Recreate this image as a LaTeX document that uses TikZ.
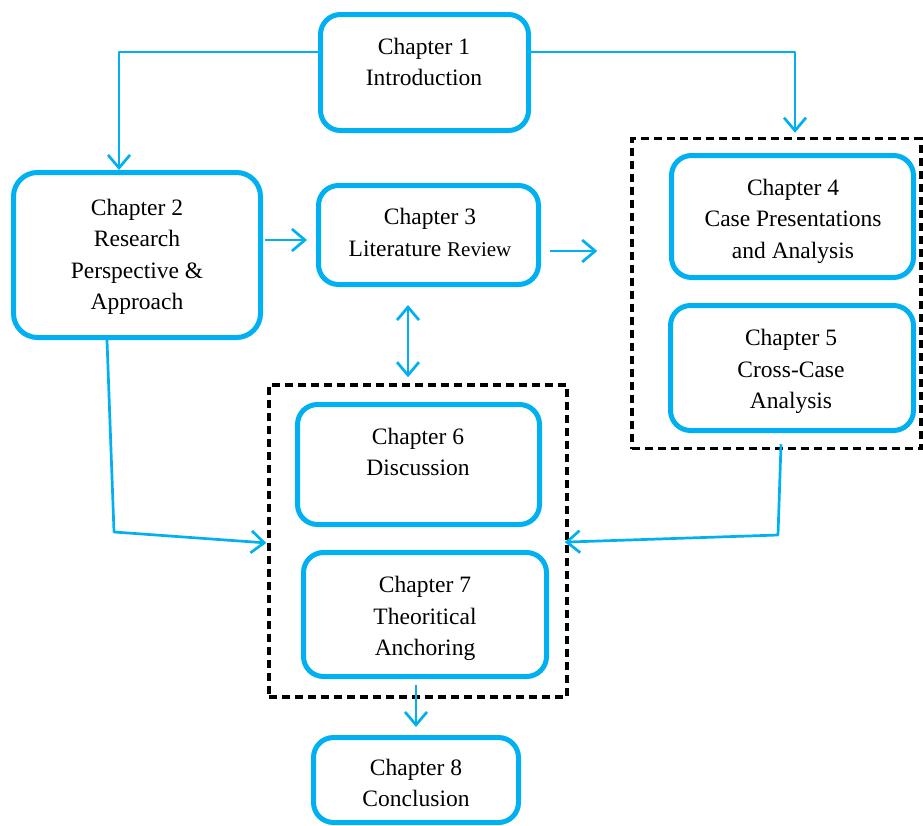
\documentclass[tikz,border=0pt]{standalone}
\usepackage{fontspec}
\setmainfont{Liberation Serif}
\usetikzlibrary{arrows.meta}
\definecolor{chblue}{HTML}{00B0F0}
\tikzset{
  chbox/.style={draw=chblue, line width=5pt, rounded corners=20pt},
  chtext/.style={align=center, font=\fontsize{23.5}{31.5}\selectfont, inner sep=0pt},
  conn/.style={draw=chblue, line width=2.7pt, line join=round,
    -{Straight Barb[length=13pt,width=22pt,line width=2.7pt]}},
  both/.style={conn, {Straight Barb[length=13pt,width=22pt,line width=2.7pt]}-{Straight Barb[length=13pt,width=22pt,line width=2.7pt]}},
  grp/.style={draw=black, line width=3.5pt, dash pattern=on 8pt off 5pt},
}
\begin{document}
\begin{tikzpicture}[x=1pt,y=-1pt]
\useasboundingbox (0,0) rectangle (923,825);

% dashed groups
\node[grp, minimum width=289pt, minimum height=310pt] (g1) at (776.5,293.5) {};
\node[grp, minimum width=298pt, minimum height=312pt] (g2) at (418,541) {};

% chapter boxes
\node[chbox, minimum width=208pt, minimum height=116pt] (c1) at (424.5,72.5) {};
\node[chbox, minimum width=247pt, minimum height=165pt, rounded corners=24pt] (c2) at (137,255) {};
\node[chbox, minimum width=220pt, minimum height=99pt] (c3) at (428.5,235) {};
\node[chbox, minimum width=242pt, minimum height=122pt] (c4) at (792.5,216.5) {};
\node[chbox, minimum width=243pt, minimum height=125pt] (c5) at (792,368) {};
\node[chbox, minimum width=242pt, minimum height=120pt] (c6) at (418.5,464.5) {};
\node[chbox, minimum width=243pt, minimum height=124pt] (c7) at (425,614.5) {};
\node[chbox, minimum width=205pt, minimum height=85pt] (c8) at (416,780) {};

% chapter titles
\node[chtext] (t1) at (424,62) {Chapter 1\\Introduction};
\node[chtext] (t2) at (137,257) {Chapter 2\\Research\\Perspective \&\\Approach};
\node[chtext] (t3) at (430,232.5) {Chapter 3\\Literature {\fontsize{21}{31.5}\selectfont Review}};
\node[chtext] (t4) at (793,221) {Chapter 4\\Case Presentations\\and Analysis};
\node[chtext] (t5) at (791,371.5) {Chapter 5\\Cross-Case\\Analysis};
\node[chtext] (t6) at (418,452) {Chapter 6\\Discussion};
\node[chtext] (t7) at (425,618.5) {Chapter 7\\Theoritical\\Anchoring};
\node[chtext] (t8) at (416,783) {Chapter 8\\Conclusion};

% bend points
\coordinate (b1) at (119,52);
\coordinate (b2) at (795,52);
\coordinate (b3) at (114,532);
\coordinate (b4) at (778,535);

% connectors
\draw[conn] (c1.west |- b1) -- (b1) -- (b1 |- c2.north);
\draw[conn, shorten >=4pt] (c1.east |- b2) -- (b2) -- (b2 |- g1.north);
\draw[conn, shorten <=2pt, shorten >=9pt] (c2.east |- 0,240) -- (c3.west |- 0,240);
\draw[conn, shorten <=9pt, shorten >=33pt] (c3.east |- 0,251) -- (g1.west |- 0,251);
\draw[both, shorten <=18pt, shorten >=6pt] (c3.south -| 408,0) -- (g2.north -| 408,0);
\draw[conn, shorten >=1pt] (c2.south -| 107,0) -- (b3) -- (g2.west |- 0,543);
\draw[conn, shorten >=-4pt] ([yshift=6pt]g1.south -| 781,0) -- (b4) -- (g2.east |- 0,542);
\draw[conn, shorten <=6pt, shorten >=8pt] (c7.south -| 416,0) -- (c8.north -| 416,0);
\end{tikzpicture}
\end{document}
